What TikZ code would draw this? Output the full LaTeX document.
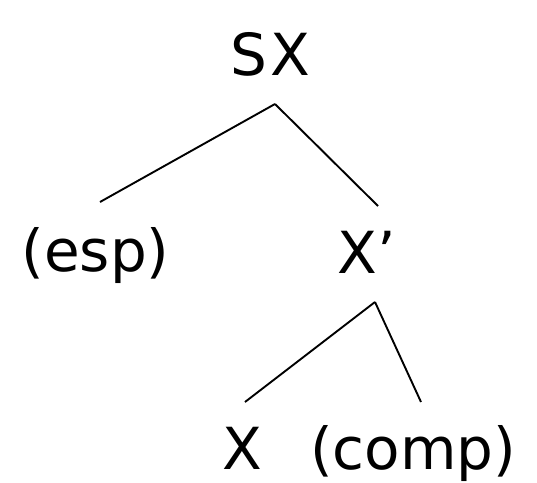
\documentclass[tikz,border=0pt]{standalone}
\usepackage{fontspec}
\setmainfont{DejaVu Sans}
\usetikzlibrary{positioning}

\begin{document}
\begin{tikzpicture}[x=1pt,y=-1pt,
  lbl/.style={font=\fontsize{58}{60}\selectfont, anchor=base, inner sep=0pt},
  branch/.style={line width=1.9pt}]
\useasboundingbox (0,0) rectangle (537,482);
% --- tree labels (placed at their baselines)
\node[lbl] (sx) at (270,75) {S\kern3pt X};
\node[lbl] (esp) at (95.5,271) {(esp)};
\node[lbl] (xbar) at (367,273) {X'};
\node[lbl] (x) at (242,469) {X};
\node[lbl] (comp) at (413,469) {(comp)};
% --- branches
\draw[branch] ([shift={(5,29)}]sx.base) -- ([shift={(4.5,-69)}]esp.base);
\draw[branch] ([shift={(5,29)}]sx.base) -- ([shift={(11,-67)}]xbar.base);
\draw[branch] ([shift={(8,29)}]xbar.base) -- ([shift={(3,-67)}]x.base);
\draw[branch] ([shift={(8,29)}]xbar.base) -- ([shift={(8,-67)}]comp.base);
\end{tikzpicture}
\end{document}
